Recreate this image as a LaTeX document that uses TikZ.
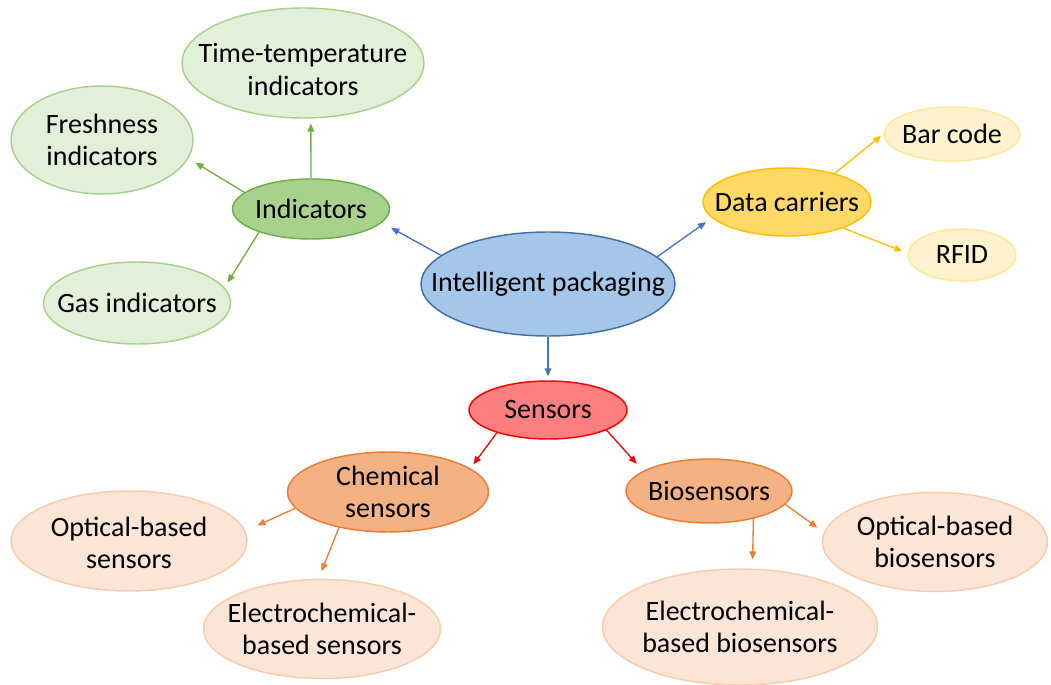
\documentclass[tikz,border=0pt]{standalone}
\usepackage{fontspec}
\setmainfont{Carlito}
\usetikzlibrary{arrows.meta,shapes.geometric}
\definecolor{ipfill}{HTML}{A4C6E8}
\definecolor{ipdraw}{HTML}{41719C}
\definecolor{cblue}{HTML}{4472C4}
\definecolor{gfill}{HTML}{A9D18E}
\definecolor{gdraw}{HTML}{70AD47}
\definecolor{lgfill}{HTML}{E2F0D9}
\definecolor{lgdraw}{HTML}{A9D18E}
\definecolor{yfill}{HTML}{FFD966}
\definecolor{ydraw}{HTML}{FFC000}
\definecolor{lyfill}{HTML}{FFF2CC}
\definecolor{lydraw}{HTML}{FFE699}
\definecolor{rfill}{HTML}{FF7F80}
\definecolor{rdraw}{HTML}{FF0000}
\definecolor{ofill}{HTML}{F4B183}
\definecolor{odraw}{HTML}{ED7D31}
\definecolor{lofill}{HTML}{FBE5D6}
\definecolor{lodraw}{HTML}{F8CBAD}
\begin{document}
\begin{tikzpicture}[x=0.75pt,y=-0.75pt,
  el/.style={ellipse, draw, line width=1.1pt, inner sep=0pt},
  txt/.style={align=center, font=\fontsize{21}{24.5}\selectfont, inner sep=0pt, text=black},
  conn/.style={line width=1pt, -{Triangle[length=6pt,width=5pt]}},
  blueel/.style={el, fill=ipfill, draw=ipdraw},
  greenel/.style={el, fill=gfill, draw=gdraw},
  lgreenel/.style={el, fill=lgfill, draw=lgdraw},
  yellowel/.style={el, fill=yfill, draw=ydraw},
  lyellowel/.style={el, fill=lyfill, draw=lydraw},
  redel/.style={el, fill=rfill, draw=rdraw},
  orangeel/.style={el, fill=ofill, draw=odraw},
  lorangeel/.style={el, fill=lofill, draw=lodraw}
]
\useasboundingbox (0,0) rectangle (1051,685);

\node[blueel, minimum width=190.5pt, minimum height=78pt, label={[txt]center:Intelligent packaging}] (ip) at (548,284) {};

\node[greenel, minimum width=117.75pt, minimum height=45pt, label={[txt]center:Indicators}] (ind) at (311,209) {};
\node[lgreenel, minimum width=181.5pt, minimum height=82.5pt, label={[txt, yshift=-5pt]center:{Time-temperature\\indicators}}] (tt) at (303,63) {};
\node[lgreenel, minimum width=136.5pt, minimum height=81pt, label={[txt]center:{Freshness\\indicators}}] (fr) at (102,140) {};
\node[lgreenel, minimum width=140.25pt, minimum height=61.5pt, label={[txt]center:Gas indicators}] (gas) at (137,303) {};

\node[yellowel, minimum width=126pt, minimum height=51pt, label={[txt]center:Data carriers}] (dc) at (787,202) {};
\node[lyellowel, minimum width=102pt, minimum height=40.5pt, label={[txt]center:Bar code}] (bc) at (952,134) {};
\node[lyellowel, minimum width=81pt, minimum height=39pt, label={[txt]center:RFID}] (rfid) at (962,255) {};

\node[redel, minimum width=118.5pt, minimum height=43.5pt, label={[txt]center:Sensors}] (sen) at (548,410) {};
\node[orangeel, minimum width=150.75pt, minimum height=60pt, label={[txt]center:{Chemical\\sensors}}] (chem) at (388,492) {};
\node[orangeel, minimum width=124.5pt, minimum height=48pt, label={[txt]center:Biosensors}] (bio) at (709,491) {};
\node[lorangeel, minimum width=177pt, minimum height=75pt, label={[txt, yshift=-1.5pt]center:{Optical-based\\sensors}}] (opt) at (129,541) {};
\node[lorangeel, minimum width=177.75pt, minimum height=74.25pt, label={[txt]center:{Electrochemical-\\based sensors}}] (ech) at (322,629) {};
\node[lorangeel, minimum width=168.75pt, minimum height=74.25pt, label={[txt]center:{Optical-based\\biosensors}}] (obio) at (935,542) {};
\node[lorangeel, minimum width=206.25pt, minimum height=87pt, label={[txt]center:{Electrochemical-\\based biosensors}}] (ebio) at (740,627) {};

\draw[conn, cblue, shorten >=8pt] (ip.165) -- (ind.-11);
\draw[conn, cblue, shorten >=5.4pt] (ip.14) -- (dc.192);
\draw[conn, cblue, shorten >=3pt] (ip.south) -- (sen.north);

\draw[conn, gdraw, shorten >=3.75pt] (ind.north) -- (tt.278);
\draw[conn, gdraw, shorten >=6.2pt] (ind.166) -- (fr.-12);
\draw[conn, gdraw, shorten >=4.4pt] (ind.204) -- (gas.10);

\draw[conn, ydraw, shorten >=2pt] (dc.31) -- (bc.180);
\draw[conn, ydraw, shorten >=4.1pt] (dc.-25) -- (rfid.178);

\draw[conn, rdraw, shorten >=3.7pt] (sen.204) -- (chem.16);
\draw[conn, rdraw, shorten >=7.1pt] (sen.-19) -- (bio.163);

\draw[conn, odraw, shorten >=9.9pt] (chem.190) -- (opt.5);
\draw[conn, odraw, shorten >=6.1pt] (chem.216) -- (ech.94);
\draw[conn, odraw, shorten >=6.8pt] (bio.-32) -- (ebio.78);
\draw[conn, odraw, shorten >=6pt] (bio.-10) -- (obio.175);
\end{tikzpicture}
\end{document}
